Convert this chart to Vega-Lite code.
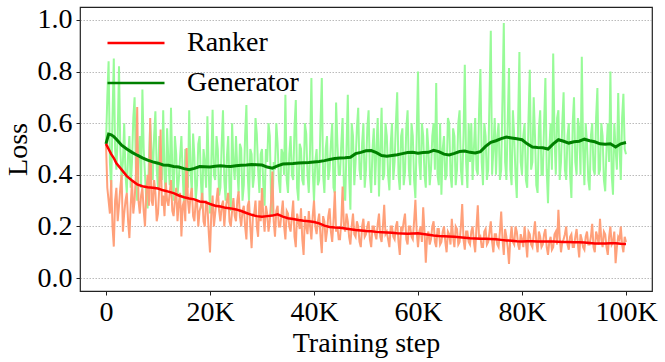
{
"$schema": "https://vega.github.io/schema/vega-lite/v6.json",
"width": 572, "height": 284,
"autosize": {"type": "none"},
"padding": {"left": 80, "top": 7, "right": 13, "bottom": 71},
"config": {
  "font": "Liberation Serif",
  "view": {"stroke": "#222222", "strokeWidth": 1.2},
  "axis": {"labelFont": "Liberation Serif", "titleFont": "Liberation Serif", "labelFontSize": 28, "titleFontSize": 28, "labelColor": "#000000", "titleColor": "#000000", "titleFontWeight": "normal", "tickColor": "#222222", "tickSize": 4, "tickWidth": 1, "domain": false},
  "legend": {"labelFont": "Liberation Serif", "labelFontSize": 28, "labelColor": "#000000", "symbolType": "stroke", "symbolSize": 3249, "symbolStrokeWidth": 2.5, "padding": 0, "rowPadding": 12, "labelOffset": 21, "clipHeight": 28}
},
"datasets": {
"raw": [
{"s":0,"g":0.52,"r":0.52},{"s":0.25,"g":0.7,"r":0.35},{"s":0.5,"g":0.84,"r":0.3},{"s":0.75,"g":0.45,"r":0.25},{"s":1,"g":0.35,"r":0.38},{"s":1.25,"g":0.62,"r":0.2},{"s":1.5,"g":0.85,"r":0.122},{"s":1.75,"g":0.5,"r":0.3},{"s":2,"g":0.42,"r":0.35},{"s":2.25,"g":0.55,"r":0.22},{"s":2.5,"g":0.82,"r":0.28},{"s":2.75,"g":0.5,"r":0.35},{"s":3,"g":0.38,"r":0.4},{"s":3.25,"g":0.45,"r":0.18},{"s":3.5,"g":0.6,"r":0.25},{"s":3.75,"g":0.4,"r":0.3},{"s":4,"g":0.33,"r":0.33},{"s":4.25,"g":0.48,"r":0.22},{"s":4.5,"g":0.55,"r":0.155},{"s":4.75,"g":0.35,"r":0.28},
{"s":5,"g":0.45,"r":0.38},{"s":5.25,"g":0.62,"r":0.25},{"s":5.5,"g":0.7,"r":0.3},{"s":5.75,"g":0.42,"r":0.4},{"s":6,"g":0.3,"r":0.663},{"s":6.25,"g":0.48,"r":0.3},{"s":6.5,"g":0.55,"r":0.25},{"s":6.75,"g":0.35,"r":0.32},{"s":7,"g":0.73,"r":0.35},{"s":7.25,"g":0.5,"r":0.26},{"s":7.5,"g":0.4,"r":0.2},{"s":7.75,"g":0.3,"r":0.33},{"s":8,"g":0.27,"r":0.4},{"s":8.25,"g":0.45,"r":0.28},{"s":8.5,"g":0.6,"r":0.62},{"s":8.75,"g":0.5,"r":0.3},{"s":9,"g":0.38,"r":0.28},{"s":9.25,"g":0.55,"r":0.38},{"s":9.5,"g":0.646,"r":0.33},{"s":9.75,"g":0.42,"r":0.22},
{"s":10,"g":0.35,"r":0.25},{"s":10.25,"g":0.55,"r":0.35},{"s":10.5,"g":0.48,"r":0.575},{"s":10.75,"g":0.38,"r":0.28},{"s":11,"g":0.65,"r":0.32},{"s":11.25,"g":0.4,"r":0.24},{"s":11.5,"g":0.32,"r":0.37},{"s":11.75,"g":0.58,"r":0.3},{"s":12,"g":0.45,"r":0.28},{"s":12.25,"g":0.36,"r":0.33},{"s":12.5,"g":0.66,"r":0.38},{"s":12.75,"g":0.42,"r":0.26},{"s":13,"g":0.3,"r":0.24},{"s":13.25,"g":0.55,"r":0.3},{"s":13.5,"g":0.48,"r":0.35},{"s":13.75,"g":0.32,"r":0.22},{"s":14,"g":0.38,"r":0.29},{"s":14.25,"g":0.47,"r":0.33},{"s":14.5,"g":0.55,"r":0.161},{"s":14.75,"g":0.4,"r":0.28},
{"s":15,"g":0.28,"r":0.3},{"s":15.25,"g":0.5,"r":0.22},{"s":15.5,"g":0.43,"r":0.504},{"s":15.75,"g":0.35,"r":0.3},{"s":16,"g":0.65,"r":0.25},{"s":16.25,"g":0.42,"r":0.32},{"s":16.5,"g":0.33,"r":0.349},{"s":16.75,"g":0.56,"r":0.24},{"s":17,"g":0.47,"r":0.22},{"s":17.25,"g":0.3,"r":0.3},{"s":17.5,"g":0.36,"r":0.3},{"s":17.75,"g":0.52,"r":0.2},{"s":18,"g":0.55,"r":0.26},{"s":18.25,"g":0.38,"r":0.28},{"s":18.5,"g":0.27,"r":0.33},{"s":18.75,"g":0.5,"r":0.22},{"s":19,"g":0.45,"r":0.2},{"s":19.25,"g":0.35,"r":0.3},{"s":19.5,"g":0.627,"r":0.28},{"s":19.75,"g":0.42,"r":0.18},
{"s":20,"g":0.25,"r":0.099},{"s":20.25,"g":0.45,"r":0.25},{"s":20.5,"g":0.652,"r":0.32},{"s":20.75,"g":0.4,"r":0.2},{"s":21,"g":0.38,"r":0.25},{"s":21.25,"g":0.55,"r":0.3},{"s":21.5,"g":0.5,"r":0.35},{"s":21.75,"g":0.32,"r":0.26},{"s":22,"g":0.35,"r":0.22},{"s":22.25,"g":0.52,"r":0.28},{"s":22.5,"g":0.65,"r":0.3},{"s":22.75,"g":0.38,"r":0.2},{"s":23,"g":0.3,"r":0.27},{"s":23.25,"g":0.47,"r":0.3},{"s":23.5,"g":0.55,"r":0.33},{"s":23.75,"g":0.35,"r":0.22},{"s":24,"g":0.26,"r":0.2},{"s":24.25,"g":0.6,"r":0.26},{"s":24.5,"g":0.45,"r":0.31},{"s":24.75,"g":0.38,"r":0.24},
{"s":25,"g":0.55,"r":0.22},{"s":25.25,"g":0.42,"r":0.3},{"s":25.5,"g":0.33,"r":0.336},{"s":25.75,"g":0.52,"r":0.24},{"s":26,"g":0.5,"r":0.2},{"s":26.25,"g":0.3,"r":0.26},{"s":26.5,"g":0.36,"r":0.28},{"s":26.75,"g":0.55,"r":0.2},{"s":27,"g":0.67,"r":0.15},{"s":27.25,"g":0.4,"r":0.28},{"s":27.5,"g":0.3,"r":0.3},{"s":27.75,"g":0.5,"r":0.2},{"s":28,"g":0.48,"r":0.116},{"s":28.25,"g":0.35,"r":0.24},{"s":28.5,"g":0.4,"r":0.25},{"s":28.75,"g":0.62,"r":0.3},{"s":29,"g":0.56,"r":0.2},{"s":29.25,"g":0.42,"r":0.16},{"s":29.5,"g":0.33,"r":0.3},{"s":29.75,"g":0.48,"r":0.22},
{"s":30,"g":0.5,"r":0.349},{"s":30.25,"g":0.36,"r":0.24},{"s":30.5,"g":0.28,"r":0.18},{"s":30.75,"g":0.5,"r":0.28},{"s":31,"g":0.45,"r":0.25},{"s":31.25,"g":0.6,"r":0.18},{"s":31.5,"g":0.55,"r":0.22},{"s":31.75,"g":0.3,"r":0.3},{"s":32,"g":0.245,"r":0.413},{"s":32.25,"g":0.45,"r":0.22},{"s":32.5,"g":0.42,"r":0.16},{"s":32.75,"g":0.6,"r":0.26},{"s":33,"g":0.52,"r":0.28},{"s":33.25,"g":0.38,"r":0.2},{"s":33.5,"g":0.33,"r":0.2},{"s":33.75,"g":0.5,"r":0.25},{"s":34,"g":0.48,"r":0.3},{"s":34.25,"g":0.4,"r":0.2},{"s":34.5,"g":0.71,"r":0.15},{"s":34.75,"g":0.38,"r":0.26},
{"s":35,"g":0.33,"r":0.25},{"s":35.25,"g":0.48,"r":0.2},{"s":35.5,"g":0.55,"r":0.18},{"s":35.75,"g":0.4,"r":0.24},{"s":36,"g":0.38,"r":0.3},{"s":36.25,"g":0.58,"r":0.16},{"s":36.5,"g":0.69,"r":0.12},{"s":36.75,"g":0.35,"r":0.25},{"s":37,"g":0.3,"r":0.22},{"s":37.25,"g":0.52,"r":0.19},{"s":37.5,"g":0.5,"r":0.27},{"s":37.75,"g":0.38,"r":0.15},{"s":38,"g":0.36,"r":0.09},{"s":38.25,"g":0.6,"r":0.24},{"s":38.5,"g":0.56,"r":0.2},{"s":38.75,"g":0.4,"r":0.17},{"s":39,"g":0.33,"r":0.26},{"s":39.25,"g":0.5,"r":0.2},{"s":39.5,"g":0.775,"r":0.15},{"s":39.75,"g":0.42,"r":0.24},
{"s":40,"g":0.297,"r":0.3},{"s":40.25,"g":0.45,"r":0.2},{"s":40.5,"g":0.5,"r":0.17},{"s":40.75,"g":0.36,"r":0.22},{"s":41,"g":0.38,"r":0.25},{"s":41.25,"g":0.6,"r":0.16},{"s":41.5,"g":0.775,"r":0.097},{"s":41.75,"g":0.4,"r":0.24},{"s":42,"g":0.33,"r":0.22},{"s":42.25,"g":0.5,"r":0.14},{"s":42.5,"g":0.55,"r":0.18},{"s":42.75,"g":0.38,"r":0.24},{"s":43,"g":0.42,"r":0.27},{"s":43.25,"g":0.52,"r":0.18},{"s":43.5,"g":0.6,"r":0.14},{"s":43.75,"g":0.35,"r":0.22},{"s":44,"g":0.33,"r":0.336},{"s":44.25,"g":0.68,"r":0.18},{"s":44.5,"g":0.52,"r":0.2},{"s":44.75,"g":0.4,"r":0.15},
{"s":45,"g":0.4,"r":0.15},{"s":45.25,"g":0.52,"r":0.22},{"s":45.5,"g":0.62,"r":0.355},{"s":45.75,"g":0.35,"r":0.2},{"s":46,"g":0.3,"r":0.18},{"s":46.25,"g":0.5,"r":0.25},{"s":46.5,"g":0.71,"r":0.22},{"s":46.75,"g":0.4,"r":0.16},{"s":47,"g":0.265,"r":0.13},{"s":47.25,"g":0.6,"r":0.2},{"s":47.5,"g":0.55,"r":0.25},{"s":47.75,"g":0.36,"r":0.17},{"s":48,"g":0.45,"r":0.16},{"s":48.25,"g":0.58,"r":0.22},{"s":48.5,"g":0.66,"r":0.2},{"s":48.75,"g":0.42,"r":0.14},{"s":49,"g":0.38,"r":0.12},{"s":49.25,"g":0.52,"r":0.2},{"s":49.5,"g":0.6,"r":0.23},{"s":49.75,"g":0.35,"r":0.16},
{"s":50,"g":0.42,"r":0.17},{"s":50.25,"g":0.58,"r":0.2},{"s":50.5,"g":0.65,"r":0.22},{"s":50.75,"g":0.4,"r":0.15},{"s":51,"g":0.33,"r":0.12},{"s":51.25,"g":0.5,"r":0.2},{"s":51.5,"g":0.58,"r":0.2},{"s":51.75,"g":0.36,"r":0.17},{"s":52,"g":0.5,"r":0.15},{"s":52.25,"g":0.62,"r":0.21},{"s":52.5,"g":0.316,"r":0.25},{"s":52.75,"g":0.5,"r":0.16},{"s":53,"g":0.66,"r":0.14},{"s":53.25,"g":0.38,"r":0.2},{"s":53.5,"g":0.4,"r":0.284},{"s":53.75,"g":0.6,"r":0.17},{"s":54,"g":0.55,"r":0.18},{"s":54.25,"g":0.4,"r":0.15},{"s":54.5,"g":0.34,"r":0.12},{"s":54.75,"g":0.52,"r":0.2},
{"s":55,"g":0.6,"r":0.2},{"s":55.25,"g":0.38,"r":0.16},{"s":55.5,"g":0.45,"r":0.15},{"s":55.75,"g":0.6,"r":0.2},{"s":56,"g":0.72,"r":0.22},{"s":56.25,"g":0.4,"r":0.14},{"s":56.5,"g":0.342,"r":0.09},{"s":56.75,"g":0.55,"r":0.2},{"s":57,"g":0.58,"r":0.18},{"s":57.25,"g":0.36,"r":0.22},{"s":57.5,"g":0.41,"r":0.25},{"s":57.75,"g":0.58,"r":0.15},{"s":58,"g":0.65,"r":0.13},{"s":58.25,"g":0.42,"r":0.2},{"s":58.5,"g":0.36,"r":0.2},{"s":58.75,"g":0.6,"r":0.16},{"s":59,"g":0.55,"r":0.15},{"s":59.25,"g":0.38,"r":0.22},{"s":59.5,"g":0.31,"r":0.303},{"s":59.75,"g":0.55,"r":0.18},
{"s":60,"g":0.8,"r":0.12},{"s":60.25,"g":0.45,"r":0.18},{"s":60.5,"g":0.38,"r":0.2},{"s":60.75,"g":0.6,"r":0.14},{"s":61,"g":0.55,"r":0.274},{"s":61.25,"g":0.4,"r":0.18},{"s":61.5,"g":0.35,"r":0.06},{"s":61.75,"g":0.58,"r":0.16},{"s":62,"g":0.5,"r":0.18},{"s":62.25,"g":0.36,"r":0.13},{"s":62.5,"g":0.42,"r":0.15},{"s":62.75,"g":0.55,"r":0.2},{"s":63,"g":0.6,"r":0.22},{"s":63.25,"g":0.42,"r":0.14},{"s":63.5,"g":0.756,"r":0.12},{"s":63.75,"g":0.4,"r":0.19},{"s":64,"g":0.36,"r":0.19},{"s":64.25,"g":0.6,"r":0.13},{"s":64.5,"g":0.323,"r":0.14},{"s":64.75,"g":0.5,"r":0.18},
{"s":65,"g":0.55,"r":0.2},{"s":65.25,"g":0.38,"r":0.14},{"s":65.5,"g":0.4,"r":0.1},{"s":65.75,"g":0.62,"r":0.18},{"s":66,"g":0.6,"r":0.17},{"s":66.25,"g":0.4,"r":0.13},{"s":66.5,"g":0.35,"r":0.23},{"s":66.75,"g":0.58,"r":0.16},{"s":67,"g":0.55,"r":0.12},{"s":67.25,"g":0.36,"r":0.2},{"s":67.5,"g":0.42,"r":0.19},{"s":67.75,"g":0.6,"r":0.13},{"s":68,"g":0.65,"r":0.14},{"s":68.25,"g":0.42,"r":0.2},{"s":68.5,"g":0.36,"r":0.287},{"s":68.75,"g":0.55,"r":0.15},{"s":69,"g":0.826,"r":0.11},{"s":69.25,"g":0.45,"r":0.18},{"s":69.5,"g":0.349,"r":0.18},{"s":69.75,"g":0.6,"r":0.14},
{"s":70,"g":0.45,"r":0.13},{"s":70.25,"g":0.6,"r":0.18},{"s":70.5,"g":0.38,"r":0.2},{"s":70.75,"g":0.5,"r":0.14},{"s":71,"g":0.62,"r":0.1},{"s":71.25,"g":0.42,"r":0.2},{"s":71.5,"g":0.4,"r":0.282},{"s":71.75,"g":0.65,"r":0.15},{"s":72,"g":0.81,"r":0.16},{"s":72.25,"g":0.45,"r":0.12},{"s":72.5,"g":0.36,"r":0.12},{"s":72.75,"g":0.6,"r":0.18},{"s":73,"g":0.55,"r":0.19},{"s":73.25,"g":0.38,"r":0.13},{"s":73.5,"g":0.42,"r":0.14},{"s":73.75,"g":0.7,"r":0.18},{"s":74,"g":0.958,"r":0.22},{"s":74.25,"g":0.4,"r":0.14},{"s":74.5,"g":0.5,"r":0.1},{"s":74.75,"g":0.62,"r":0.17},
{"s":75,"g":0.4,"r":0.17},{"s":75.25,"g":0.55,"r":0.13},{"s":75.5,"g":0.6,"r":0.12},{"s":75.75,"g":0.38,"r":0.18},{"s":76,"g":0.42,"r":0.258},{"s":76.25,"g":0.7,"r":0.15},{"s":76.5,"g":0.988,"r":0.09},{"s":76.75,"g":0.45,"r":0.19},{"s":77,"g":0.38,"r":0.16},{"s":77.25,"g":0.6,"r":0.12},{"s":77.5,"g":0.814,"r":0.055},{"s":77.75,"g":0.42,"r":0.15},{"s":78,"g":0.36,"r":0.2},{"s":78.25,"g":0.65,"r":0.14},{"s":78.5,"g":0.55,"r":0.13},{"s":78.75,"g":0.4,"r":0.2},{"s":79,"g":0.31,"r":0.18},{"s":79.25,"g":0.6,"r":0.13},{"s":79.5,"g":0.876,"r":0.11},{"s":79.75,"g":0.45,"r":0.17},
{"s":80,"g":0.4,"r":0.15},{"s":80.25,"g":0.55,"r":0.12},{"s":80.5,"g":0.6,"r":0.2},{"s":80.75,"g":0.38,"r":0.14},{"s":81,"g":0.35,"r":0.08},{"s":81.25,"g":0.62,"r":0.18},{"s":81.5,"g":0.807,"r":0.17},{"s":81.75,"g":0.42,"r":0.13},{"s":82,"g":0.45,"r":0.12},{"s":82.25,"g":0.7,"r":0.17},{"s":82.5,"g":0.55,"r":0.22},{"s":82.75,"g":0.36,"r":0.14},{"s":83,"g":0.33,"r":0.1},{"s":83.25,"g":0.58,"r":0.18},{"s":83.5,"g":0.65,"r":0.16},{"s":83.75,"g":0.4,"r":0.12},{"s":84,"g":0.4,"r":0.13},{"s":84.25,"g":0.6,"r":0.17},{"s":84.5,"g":0.775,"r":0.19},{"s":84.75,"g":0.42,"r":0.12},
{"s":85,"g":0.29,"r":0.09},{"s":85.25,"g":0.5,"r":0.14},{"s":85.5,"g":0.6,"r":0.16},{"s":85.75,"g":0.42,"r":0.11},{"s":86,"g":0.87,"r":0.12},{"s":86.25,"g":0.55,"r":0.17},{"s":86.5,"g":0.4,"r":0.18},{"s":86.75,"g":0.62,"r":0.13},{"s":87,"g":0.65,"r":0.265},{"s":87.25,"g":0.38,"r":0.16},{"s":87.5,"g":0.45,"r":0.1},{"s":87.75,"g":0.6,"r":0.14},{"s":88,"g":0.72,"r":0.15},{"s":88.25,"g":0.42,"r":0.17},{"s":88.5,"g":0.38,"r":0.2},{"s":88.75,"g":0.55,"r":0.13},{"s":89,"g":0.6,"r":0.11},{"s":89.25,"g":0.4,"r":0.16},{"s":89.5,"g":0.31,"r":0.17},{"s":89.75,"g":0.6,"r":0.12},
{"s":90,"g":0.7,"r":0.12},{"s":90.25,"g":0.45,"r":0.16},{"s":90.5,"g":0.4,"r":0.19},{"s":90.75,"g":0.62,"r":0.13},{"s":91,"g":0.58,"r":0.08},{"s":91.25,"g":0.4,"r":0.17},{"s":91.5,"g":0.857,"r":0.15},{"s":91.75,"g":0.5,"r":0.12},{"s":92,"g":0.36,"r":0.11},{"s":92.25,"g":0.6,"r":0.16},{"s":92.5,"g":0.52,"r":0.18},{"s":92.75,"g":0.38,"r":0.13},{"s":93,"g":0.34,"r":0.13},{"s":93.25,"g":0.55,"r":0.16},{"s":93.5,"g":0.6,"r":0.21},{"s":93.75,"g":0.42,"r":0.12},{"s":94,"g":0.4,"r":0.1},{"s":94.25,"g":0.62,"r":0.18},{"s":94.5,"g":0.736,"r":0.16},{"s":94.75,"g":0.4,"r":0.13},
{"s":95,"g":0.42,"r":0.23},{"s":95.25,"g":0.6,"r":0.15},{"s":95.5,"g":0.55,"r":0.12},{"s":95.75,"g":0.38,"r":0.18},{"s":96,"g":0.336,"r":0.17},{"s":96.25,"g":0.5,"r":0.12},{"s":96.5,"g":0.6,"r":0.09},{"s":96.75,"g":0.45,"r":0.16},{"s":97,"g":0.8,"r":0.2},{"s":97.25,"g":0.4,"r":0.13},{"s":97.5,"g":0.323,"r":0.14},{"s":97.75,"g":0.6,"r":0.18},{"s":98,"g":0.5,"r":0.058},{"s":98.25,"g":0.42,"r":0.12},{"s":98.5,"g":0.717,"r":0.16},{"s":98.75,"g":0.5,"r":0.15},{"s":99,"g":0.38,"r":0.2},{"s":99.25,"g":0.62,"r":0.13},{"s":99.5,"g":0.714,"r":0.1},{"s":99.75,"g":0.5,"r":0.16},
{"s":100,"g":0.48,"r":0.14}
],
"smooth": [
{"s":0,"g":0.52,"r":0.52},{"s":0.5,"g":0.558,"r":0.5},{"s":1,"g":0.555,"r":0.48},{"s":1.5,"g":0.548,"r":0.465},{"s":2,"g":0.538,"r":0.445},{"s":3,"g":0.515,"r":0.42},{"s":4,"g":0.5,"r":0.395},{"s":5,"g":0.487,"r":0.378},{"s":6,"g":0.476,"r":0.363},{"s":7,"g":0.466,"r":0.356},{"s":8,"g":0.457,"r":0.352},{"s":9,"g":0.45,"r":0.35},{"s":10,"g":0.445,"r":0.347},
{"s":11,"g":0.438,"r":0.34},{"s":12,"g":0.437,"r":0.335},{"s":13,"g":0.432,"r":0.329},{"s":14,"g":0.43,"r":0.32},{"s":15,"g":0.424,"r":0.313},{"s":16,"g":0.42,"r":0.308},{"s":17,"g":0.425,"r":0.305},{"s":18,"g":0.432,"r":0.297},{"s":19,"g":0.431,"r":0.295},{"s":20,"g":0.43,"r":0.287},
{"s":21,"g":0.433,"r":0.28},{"s":22,"g":0.435,"r":0.277},{"s":23,"g":0.433,"r":0.272},{"s":24,"g":0.432,"r":0.27},{"s":25,"g":0.435,"r":0.266},{"s":26,"g":0.437,"r":0.26},{"s":27,"g":0.438,"r":0.252},{"s":28,"g":0.44,"r":0.245},{"s":29,"g":0.439,"r":0.24},{"s":30,"g":0.438,"r":0.238},
{"s":31,"g":0.43,"r":0.24},{"s":32,"g":0.426,"r":0.242},{"s":33,"g":0.435,"r":0.247},{"s":34,"g":0.442,"r":0.238},{"s":35,"g":0.443,"r":0.232},{"s":36,"g":0.444,"r":0.229},{"s":37,"g":0.446,"r":0.225},{"s":38,"g":0.447,"r":0.222},{"s":39,"g":0.448,"r":0.22},{"s":40,"g":0.45,"r":0.217},
{"s":41,"g":0.452,"r":0.212},{"s":42,"g":0.455,"r":0.203},{"s":43,"g":0.459,"r":0.198},{"s":44,"g":0.463,"r":0.196},{"s":45,"g":0.465,"r":0.195},{"s":46,"g":0.466,"r":0.192},{"s":47,"g":0.468,"r":0.189},{"s":48,"g":0.482,"r":0.186},{"s":49,"g":0.487,"r":0.184},{"s":50,"g":0.493,"r":0.182},
{"s":51,"g":0.494,"r":0.181},{"s":52,"g":0.486,"r":0.179},{"s":53,"g":0.475,"r":0.178},{"s":54,"g":0.472,"r":0.177},{"s":55,"g":0.475,"r":0.176},{"s":56,"g":0.478,"r":0.174},{"s":57,"g":0.482,"r":0.173},{"s":58,"g":0.486,"r":0.172},{"s":59,"g":0.487,"r":0.173},{"s":60,"g":0.484,"r":0.174},
{"s":61,"g":0.486,"r":0.171},{"s":62,"g":0.487,"r":0.168},{"s":63,"g":0.495,"r":0.165},{"s":64,"g":0.49,"r":0.163},{"s":65,"g":0.48,"r":0.162},{"s":66,"g":0.477,"r":0.161},{"s":67,"g":0.483,"r":0.16},{"s":68,"g":0.49,"r":0.158},{"s":69,"g":0.492,"r":0.156},{"s":70,"g":0.487,"r":0.154},
{"s":71,"g":0.485,"r":0.153},{"s":72,"g":0.49,"r":0.152},{"s":73,"g":0.51,"r":0.152},{"s":74,"g":0.526,"r":0.151},{"s":75,"g":0.532,"r":0.15},{"s":76,"g":0.54,"r":0.148},{"s":77,"g":0.546,"r":0.146},{"s":78,"g":0.543,"r":0.145},{"s":79,"g":0.54,"r":0.143},{"s":80,"g":0.536,"r":0.142},
{"s":81,"g":0.52,"r":0.143},{"s":82,"g":0.508,"r":0.143},{"s":83,"g":0.506,"r":0.142},{"s":84,"g":0.505,"r":0.142},{"s":85,"g":0.5,"r":0.142},{"s":86,"g":0.52,"r":0.142},{"s":87,"g":0.536,"r":0.141},{"s":88,"g":0.53,"r":0.14},{"s":89,"g":0.523,"r":0.14},{"s":90,"g":0.528,"r":0.139},
{"s":91,"g":0.53,"r":0.139},{"s":92,"g":0.538,"r":0.138},{"s":93,"g":0.532,"r":0.136},{"s":94,"g":0.528,"r":0.134},{"s":95,"g":0.52,"r":0.134},{"s":96,"g":0.518,"r":0.134},{"s":97,"g":0.52,"r":0.135},{"s":98,"g":0.508,"r":0.135},{"s":99,"g":0.52,"r":0.133},{"s":100,"g":0.525,"r":0.132}
]
},
"encoding": {
  "x": {"field": "s", "type": "quantitative", "scale": {"domain": [-5, 105], "nice": false, "zero": false},
        "axis": {"values": [0, 20, 40, 60, 80, 100], "labelExpr": "datum.value == 0 ? '0' : datum.value + 'K'", "title": "Training step", "grid": false, "labelFont": "Liberation Serif", "labelFontSize": 28, "titleFont": "Liberation Serif", "titleFontSize": 28, "labelPadding": 3, "titlePadding": 3}}
},
"layer": [
  {"data": {"name": "raw"}, "mark": {"type": "line", "color": "#98fb98", "strokeWidth": 2},
   "encoding": {"y": {"field": "g", "type": "quantitative", "scale": {"domain": [-0.05, 1.05], "nice": false, "zero": false},
     "axis": {"values": [0, 0.2, 0.4, 0.6, 0.8, 1.0], "format": ".1f", "title": "Loss", "grid": true, "gridDash": [1.5, 1.5], "gridColor": "#aaaaaa", "gridWidth": 0.8, "labelFont": "Liberation Serif", "labelFontSize": 28, "titleFont": "Liberation Serif", "titleFontSize": 28, "labelPadding": 4, "titlePadding": 5}}}},
  {"data": {"name": "raw"}, "mark": {"type": "line", "color": "#ffa07a", "strokeWidth": 2},
   "encoding": {"y": {"field": "r", "type": "quantitative"}}},
  {"data": {"name": "smooth"}, "mark": {"type": "line", "strokeWidth": 3},
   "encoding": {"y": {"field": "g", "type": "quantitative"},
     "color": {"datum": "Generator", "scale": {"domain": ["Ranker", "Generator"], "range": ["#ff0000", "#008000"]},
       "legend": {"title": null, "orient": "none", "legendX": 26, "legendY": 22}}}},
  {"data": {"name": "smooth"}, "mark": {"type": "line", "strokeWidth": 2.5},
   "encoding": {"y": {"field": "r", "type": "quantitative"}, "color": {"datum": "Ranker"}}}
]
}
